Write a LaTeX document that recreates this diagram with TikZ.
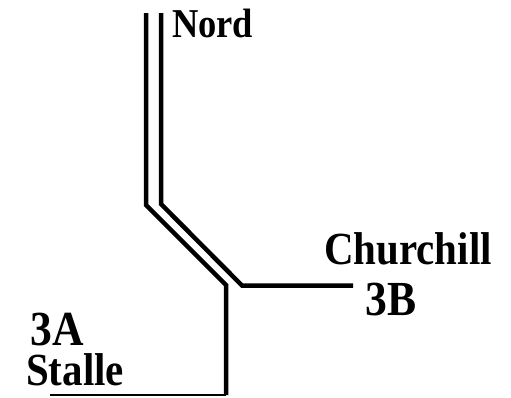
\documentclass[tikz,border=0pt]{standalone}
\usepackage{fontspec}
\setmainfont{Liberation Serif}
\newfontfamily\lblfont[FakeStretch=0.89]{Liberation Serif Bold}
\tikzset{
  track/.style={line width=4.5pt, line join=miter},
  thin/.style={line width=2pt},
  lbl/.style={anchor=base west, inner sep=0pt, font=\lblfont\fontsize{46}{46}\selectfont},
  lblbig/.style={anchor=base west, inner sep=0pt, font=\lblfont\fontsize{49}{49}\selectfont},
  lblsmall/.style={anchor=base west, inner sep=0pt, font=\lblfont\fontsize{41}{41}\selectfont},
}
\begin{document}
\begin{tikzpicture}[x=1pt,y=-1pt]
\useasboundingbox (0,0) rectangle (511,397);
% left track
\coordinate (l1) at (146,13);
\coordinate (l2) at (146,205);
\coordinate (l3) at (226,285);
\coordinate (l4) at (226,395);
% right track
\coordinate (r1) at (161,13);
\coordinate (r2) at (161,204);
\coordinate (r3) at (242,285.5);
\coordinate (r4) at (353,285.5);
% bottom
\coordinate (b1) at (50,394.5);
\draw[track] (l1) -- (l2) -- (l3) -- (l4);
\draw[track] (r1) -- (r2) -- (r3) -- (r4);
\draw[thin] (b1) -- (l4 |- b1);
\node[lblsmall] (nord) at (172,37) {Nord};
\node[lbl] (church) at (324,264) {Churchill};
\node[lblbig] (tb) at (365,315) {3B};
\node[lblbig, text depth=0pt] (ta) at (30,345) {3A};
\node[lbl] (stalle) at (26,385) {Stalle};
\end{tikzpicture}
\end{document}
